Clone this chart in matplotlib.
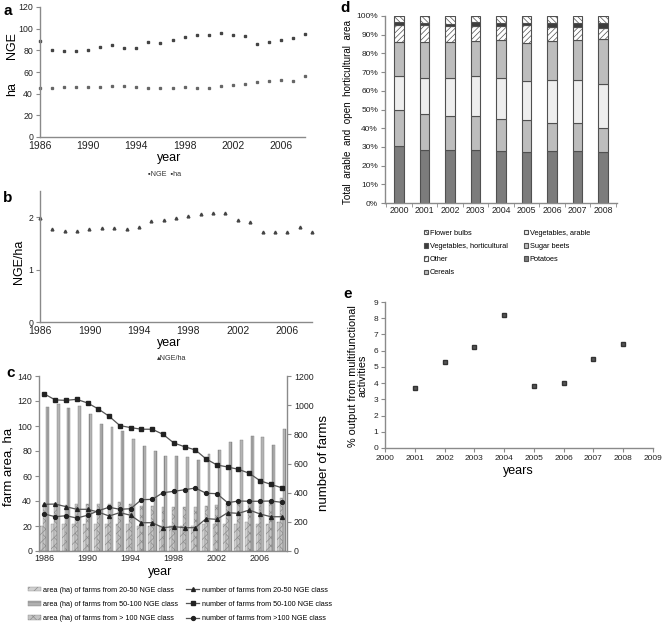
import numpy as np
import matplotlib.pyplot as plt
from matplotlib.patches import Patch
from matplotlib.lines import Line2D

plt.rcParams['font.family'] = ['Liberation Sans', 'DejaVu Sans']
plt.rcParams['hatch.linewidth'] = 0.5

# ---- data ----
years_a = list(range(1986, 2009))
nge = [88.6, 80.6, 79.4, 79.4, 80.6, 83.1, 84.6, 82.5, 82.5, 87.4, 87.1, 89.8,
       92.3, 94.5, 94.5, 96.3, 93.8, 92.9, 86.2, 88.0, 89.2, 91.4, 94.8]
ha = [45.2, 45.5, 46.2, 46.2, 46.2, 46.5, 47.4, 47.1, 45.8, 45.5, 44.9, 45.2,
      46.2, 45.5, 45.5, 46.8, 48.0, 48.9, 50.5, 52.0, 52.6, 51.7, 56.0]
nge_ha = [1.98, 1.78, 1.74, 1.73, 1.77, 1.80, 1.79, 1.77, 1.81, 1.93, 1.95, 1.99,
          2.03, 2.07, 2.08, 2.08, 1.95, 1.91, 1.72, 1.72, 1.71, 1.81, 1.71]

area_20_50 = [20, 22, 22, 22, 22, 22, 22, 22, 22, 20, 20, 20,
              20, 20, 20, 22, 22, 22, 22, 23, 22, 22, 23]
area_50_100 = [38, 38, 37, 38, 38, 38, 38, 39, 38, 36, 36, 35,
               35, 35, 35, 36, 37, 38, 38, 39, 40, 40, 42.7]
area_100 = [115.5, 118, 114.7, 115.7, 109.6, 101.3, 99, 96.3, 89.6, 84, 80, 76,
            76, 75, 72.8, 77.6, 80.5, 87.2, 88.8, 92, 91.5, 84.8, 97.3]
farms_20_50 = [320, 322, 304, 286, 286, 267, 240, 263, 245, 194, 194, 160,
               167, 160, 160, 222, 217, 263, 258, 281, 254, 235, 235]
farms_50_100 = [1077, 1036, 1033, 1040, 1015, 974, 924, 860, 846, 835, 835, 800,
                741, 715, 693, 631, 590, 576, 560, 533, 482, 457, 434]
farms_100 = [254, 235, 242, 226, 245, 276, 300, 286, 290, 352, 354, 400,
             409, 420, 432, 396, 393, 331, 343, 341, 341, 343, 334]

years_d = ['2000', '2001', '2002', '2003', '2004', '2005', '2006', '2007', '2008']
crop_names = ['Potatoes', 'Sugar beets', 'Vegetables, arable', 'Cereals',
              'Other', 'Vegetables, horticultural', 'Flower bulbs']
potatoes = [30.3, 28.5, 28.2, 28.2, 27.8, 27.3, 27.8, 27.8, 27.1]
sugar_beets = [19.3, 18.9, 18.5, 18.1, 17.1, 16.9, 15.0, 14.8, 13.2]
veg_arable = [18.5, 19.4, 20.1, 21.6, 22.1, 20.9, 22.8, 23.0, 23.5]
cereals = [18.2, 19.5, 19.5, 18.7, 20.0, 20.6, 21.0, 21.7, 23.9]
other = [9.1, 9.1, 8.4, 8.1, 7.5, 9.7, 7.5, 6.8, 6.1]
veg_hort = [1.4, 1.0, 1.2, 1.9, 1.9, 0.9, 2.3, 2.3, 2.6]
flower_bulbs = [3.2, 3.6, 4.1, 3.6, 3.6, 3.7, 3.6, 3.6, 3.6]

years_e = [2001, 2002, 2003, 2004, 2005, 2006, 2007, 2008]
multifunc = [3.7, 5.3, 6.2, 8.2, 3.8, 4.0, 5.5, 6.4]

# ---- figure ----
W, H = 663, 624
fig = plt.figure(figsize=(W / 100, H / 100), dpi=100)
spine_c = '#8a8a8a'
mark_c = '#444444'


def px_axes(l, t, r, b):
    return fig.add_axes([l / W, 1 - b / H, (r - l) / W, (b - t) / H])


def style(ax, right=False, xs=7.5, ys=6.3):
    for s in ['top', 'right', 'left', 'bottom']:
        ax.spines[s].set_visible(False)
    ax.spines['bottom'].set_visible(True)
    ax.spines['left' if not right else 'right'].set_visible(True)
    for s in ['left', 'right', 'bottom']:
        ax.spines[s].set_color(spine_c)
        ax.spines[s].set_linewidth(1.0)
    ax.tick_params(colors=spine_c, labelcolor='#222222', length=3, width=0.8, pad=2)
    ax.tick_params(axis='x', labelsize=xs)
    ax.tick_params(axis='y', labelsize=ys)


def ftext(x, y, s, **kw):
    fig.text(x / W, 1 - y / H, s, **kw)


# a
ax = px_axes(40, 7, 305, 137)
style(ax)
ax.plot(years_a, nge, 's', ms=1.6, color=mark_c, clip_on=False)
ax.plot(years_a, ha, 's', ms=1.4, color='#666666', clip_on=False)
ax.set_xlim(1986, 2008)
ax.set_ylim(0, 120)
ax.set_yticks(range(0, 121, 20))
ax.set_xticks(range(1986, 2008, 4))
ax.tick_params(axis='x', length=0, pad=3)
ftext(3, 11, 'a', fontsize=11, fontweight='bold', va='center')
ftext(12, 46, 'NGE', fontsize=9, rotation=90, ha='center', va='center')
ftext(12, 89, 'ha', fontsize=9, rotation=90, ha='center', va='center')
ftext(169, 158, 'year', fontsize=9, ha='center', va='center')
ftext(165, 174, '\u25aaNGE  \u25aaha', fontsize=5.2, ha='center', va='center', color='#333333')

# b
ax = px_axes(40, 191, 312, 322)
style(ax)
ax.plot(years_a, nge_ha, '^', ms=2.0, color=mark_c, clip_on=False)
ax.set_xlim(1986, 2008)
ax.set_ylim(0, 2.5)
ax.set_yticks([0, 1, 2])
ax.set_xticks(range(1986, 2008, 4))
ax.tick_params(axis='x', length=0, pad=3)
ftext(3, 198, 'b', fontsize=11, fontweight='bold', va='center')
ftext(19, 262, 'NGE/ha', fontsize=9, rotation=90, ha='center', va='center')
ftext(169, 343, 'year', fontsize=9, ha='center', va='center')
ftext(172, 358, '\u25b4NGE/ha', fontsize=5.2, ha='center', va='center', color='#333333')

# c
ax = px_axes(39, 376, 287, 551)
style(ax, xs=6.5, ys=6.3)
x = np.array(years_a)
bw = 0.27
bar_kw = [dict(color='#d0d0d0', edgecolor='#8c8c8c', hatch='////', lw=0.3),
          dict(color='#c4c4c4', edgecolor='#8c8c8c', hatch='xxxx', lw=0.3),
          dict(color='#b4b4b4', edgecolor='#7c7c7c', hatch='||||', lw=0.3)]
ax.bar(x - bw, area_20_50, bw, **bar_kw[0])
ax.bar(x, area_50_100, bw, **bar_kw[1])
ax.bar(x + bw, area_100, bw, **bar_kw[2])
ax.set_xlim(1985.5, 2008.5)
ax.set_ylim(0, 140)
ax.set_yticks(range(0, 141, 20))
ax.set_xticks(range(1986, 2008, 4))
ax.tick_params(axis='x', length=0)
ax2 = ax.twinx()
style(ax2, right=True, xs=6.5, ys=6.3)
ax2.spines['bottom'].set_visible(False)
line_kw = dict(color='#555555', lw=0.9, mfc='#222222', mec='#222222')
ax2.plot(x, farms_20_50, '-^', ms=2.8, **line_kw)
ax2.plot(x, farms_50_100, '-s', ms=2.4, **line_kw)
ax2.plot(x, farms_100, '-o', ms=2.8, **line_kw)
ax2.set_ylim(0, 1200)
ax2.set_yticks(range(0, 1201, 200))
ftext(6, 373, 'c', fontsize=11, fontweight='bold', va='center')
ftext(9, 467, 'farm area, ha', fontsize=9.5, rotation=90, ha='center', va='center')
ftext(324, 463, 'number of farms', fontsize=9.5, rotation=90, ha='center', va='center')
ftext(160, 572, 'year', fontsize=9, ha='center', va='center')
hc = [Patch(facecolor='#d0d0d0', edgecolor='#8c8c8c', hatch='////', lw=0.3),
      Patch(facecolor='#b0b0b0', edgecolor='#8a8a8a', hatch='----', lw=0.3),
      Patch(facecolor='#c4c4c4', edgecolor='#8c8c8c', hatch='xxxx', lw=0.3),
      Line2D([], [], marker='^', ms=2.8, **line_kw),
      Line2D([], [], marker='s', ms=2.4, **line_kw),
      Line2D([], [], marker='o', ms=2.8, **line_kw)]
lc = ['area (ha) of farms from 20-50 NGE class',
      'area (ha) of farms from 50-100 NGE class',
      'area (ha) of farms from > 100 NGE class',
      'number of farms from 20-50 NGE class',
      'number of farms from 50-100 NGE class',
      'number of farms from >100 NGE class']
fig.legend(hc, lc, ncol=2, loc='upper left', bbox_to_anchor=(24 / W, 1 - 583 / H),
           frameon=False, fontsize=5.2, handlelength=1.8, handleheight=0.6,
           handletextpad=0.3, columnspacing=1.2, labelspacing=1.0, borderpad=0)

# d
ax = px_axes(385, 16, 617, 203)
style(ax, xs=6.3, ys=6.0)
xd = np.arange(len(years_d))
segs = [potatoes, sugar_beets, veg_arable, cereals, other, veg_hort, flower_bulbs]
fcs = ['#7c7c7c', '#bdbdbd', '#eeeeee', '#bdbdbd', 'white', '#3c3c3c', 'white']
hts = [None, None, None, None, '//////', None, '\\\\\\\\\\\\']
bottom = np.zeros(len(years_d))
handles = {}
for name, vals, fc, ht in zip(crop_names, segs, fcs, hts):
    b = ax.bar(xd, vals, 0.38, bottom=bottom, color=fc, edgecolor='#505050', lw=0.8, hatch=ht)
    handles[name] = b
    bottom += np.array(vals)
ax.set_xlim(-0.55, len(years_d) - 0.45)
ax.set_ylim(0, 100)
ax.set_yticks(range(0, 101, 10))
ax.set_yticklabels([f'{v}%' for v in range(0, 101, 10)])
ax.set_xticks(xd)
ax.set_xticklabels(years_d)
ax.set_xticks(np.arange(-0.5, len(years_d)), minor=True)
ax.tick_params(axis='x', which='major', length=0)
ax.tick_params(axis='x', which='minor', length=3, colors=spine_c)
ftext(340, 8, 'd', fontsize=11, fontweight='bold', va='center')
ftext(348, 112, 'Total  arable  and  open  horticultural  area', fontsize=7.1,
      rotation=90, ha='center', va='center')
order = ['Flower bulbs', 'Vegetables, horticultural', 'Other', 'Cereals',
         'Vegetables, arable', 'Sugar beets', 'Potatoes']
fig.legend([handles[n] for n in order], order, ncol=2, loc='upper left',
           bbox_to_anchor=(420 / W, 1 - 226 / H), frameon=False, fontsize=5.3,
           handlelength=0.6, handleheight=0.6, handletextpad=0.2,
           columnspacing=2.2, labelspacing=0.85, borderpad=0)

# e
ax = px_axes(385, 302, 653, 448)
style(ax, xs=6.0, ys=6.0)
ax.plot(years_e, multifunc, 's', ms=3.2, color='#333333', mfc='#555555')
ax.set_xlim(2000, 2009)
ax.set_ylim(0, 9)
ax.set_yticks(range(0, 10))
ax.set_xticks(range(2000, 2010))
ftext(343, 294, 'e', fontsize=11, fontweight='bold', va='center')
ftext(358, 376, '% output from multifunctional\nactivities', fontsize=7.8,
      rotation=90, ha='center', va='center', linespacing=1.0)
ftext(518, 471, 'years', fontsize=9, ha='center', va='center')

fig.savefig('out.png', dpi=100)
